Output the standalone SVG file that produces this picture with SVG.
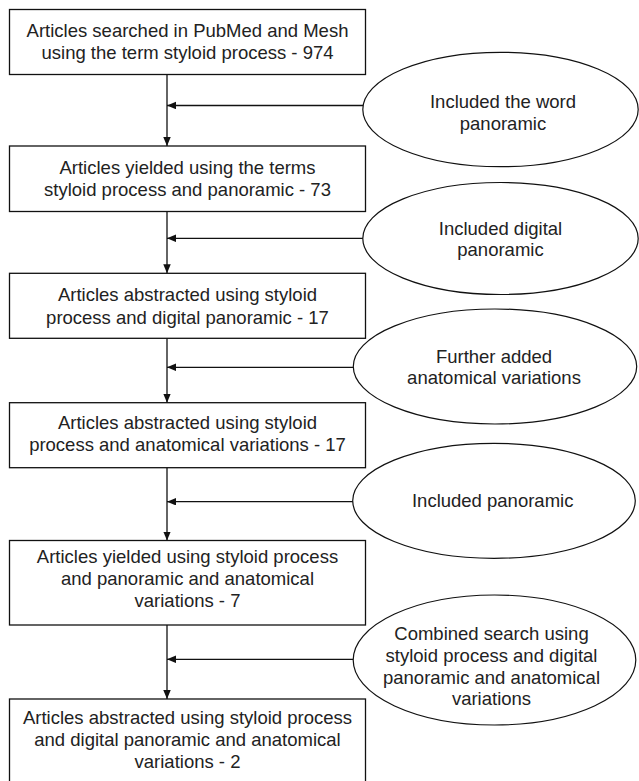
<svg xmlns="http://www.w3.org/2000/svg" width="639" height="781" viewBox="0 0 639 781">
<style>
.box{fill:#fff;stroke:#111;stroke-width:1.3}
.ell{fill:#fff;stroke:#111;stroke-width:1.2}
.t{font-family:"Liberation Sans",Arial,sans-serif;font-size:18.5px;fill:#222;text-anchor:middle}
.c{fill:none;stroke:#111;stroke-width:1.3}
</style>
<defs>
<marker id="ah" markerUnits="userSpaceOnUse" markerWidth="10" markerHeight="8" refX="9" refY="3.75" orient="auto">
<path d="M0,0 L9,3.75 L0,7.5 z" fill="#111"/>
</marker>
</defs>
<rect width="639" height="781" fill="#fff"/>
<g id="connectors">
<line class="c" x1="167" y1="74.5" x2="167" y2="146" marker-end="url(#ah)"/>
<line class="c" x1="167" y1="211.5" x2="167" y2="273.3" marker-end="url(#ah)"/>
<line class="c" x1="167" y1="338.3" x2="167" y2="402.7" marker-end="url(#ah)"/>
<line class="c" x1="167" y1="467.7" x2="167" y2="540.5" marker-end="url(#ah)"/>
<line class="c" x1="167" y1="625" x2="167" y2="699" marker-end="url(#ah)"/>
<line class="c" x1="363" y1="105.5" x2="167" y2="105.5" marker-end="url(#ah)"/>
<line class="c" x1="363" y1="238.3" x2="167" y2="238.3" marker-end="url(#ah)"/>
<line class="c" x1="353.5" y1="367.3" x2="167" y2="367.3" marker-end="url(#ah)"/>
<line class="c" x1="353" y1="501.7" x2="167" y2="501.7" marker-end="url(#ah)"/>
<line class="c" x1="353.5" y1="659.3" x2="167" y2="659.3" marker-end="url(#ah)"/>
</g>
<g id="box1">
<rect class="box" x="9.5" y="9.5" width="356" height="65"/>
<text class="t" x="187.5" y="36.7">Articles searched in PubMed and Mesh</text>
<text class="t" x="187.5" y="59.3">using the term styloid process - 974</text>
</g>
<g id="ellipse1">
<ellipse class="ell" cx="500.5" cy="109.5" rx="137.7" ry="57.2"/>
<text class="t" x="503" y="108.3">Included the word</text>
<text class="t" x="503" y="130">panoramic</text>
</g>
<g id="box2">
<rect class="box" x="9.5" y="146" width="356" height="65.5"/>
<text class="t" x="187.5" y="173.7">Articles yielded using the terms</text>
<text class="t" x="187.5" y="196.3">styloid process and panoramic - 73</text>
</g>
<g id="ellipse2">
<ellipse class="ell" cx="500.5" cy="238.5" rx="137.7" ry="56"/>
<text class="t" x="500.5" y="235">Included digital</text>
<text class="t" x="500.5" y="256">panoramic</text>
</g>
<g id="box3">
<rect class="box" x="9.5" y="273.3" width="356" height="65"/>
<text class="t" x="187.5" y="301">Articles abstracted using styloid</text>
<text class="t" x="187.5" y="323.6">process and digital panoramic - 17</text>
</g>
<g id="ellipse3">
<ellipse class="ell" cx="495" cy="366.5" rx="141.7" ry="57.5"/>
<text class="t" x="494" y="362.7">Further added</text>
<text class="t" x="494" y="383.8">anatomical variations</text>
</g>
<g id="box4">
<rect class="box" x="9.5" y="402.7" width="356" height="65"/>
<text class="t" x="187.5" y="429.3">Articles abstracted using styloid</text>
<text class="t" x="187.5" y="450.9">process and anatomical variations - 17</text>
</g>
<g id="ellipse4">
<ellipse class="ell" cx="494" cy="500.8" rx="141.3" ry="57.5"/>
<text class="t" x="492.7" y="506.7">Included panoramic</text>
</g>
<g id="box5">
<rect class="box" x="9.5" y="540.5" width="356" height="84.5"/>
<text class="t" x="187.5" y="563.3">Articles yielded using styloid process</text>
<text class="t" x="187.5" y="585.2">and panoramic and anatomical</text>
<text class="t" x="187.5" y="607.1">variations - 7</text>
</g>
<g id="ellipse5">
<ellipse class="ell" cx="494.5" cy="660" rx="141.3" ry="65"/>
<text class="t" x="491.5" y="640">Combined search using</text>
<text class="t" x="491.5" y="661.8">styloid process and digital</text>
<text class="t" x="491.5" y="683.6">panoramic and anatomical</text>
<text class="t" x="491.5" y="705.4">variations</text>
</g>
<g id="box6">
<rect class="box" x="9.5" y="699" width="356" height="90"/>
<text class="t" x="187.5" y="724.3">Articles abstracted using styloid process</text>
<text class="t" x="187.5" y="746">and digital panoramic and anatomical</text>
<text class="t" x="187.5" y="767.5">variations - 2</text>
</g>
</svg>
